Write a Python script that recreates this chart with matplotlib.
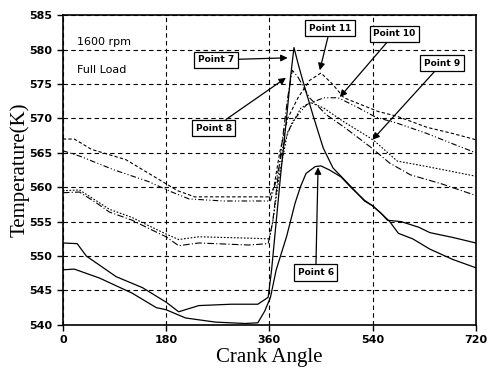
import matplotlib.pyplot as plt

# Temperatura vs ángulo de cigüeñal, 1600 rpm carga completa
ang6 = [0, 20, 64, 121, 163, 180, 214, 266, 318, 340, 352, 362, 372, 390, 405, 414, 424, 440, 450,
        465, 485, 502, 526, 540, 555, 570, 585, 610, 640, 680, 720]
t6 = [548.0, 548.1, 546.8, 544.6, 542.5, 542.2, 541.0, 540.4, 540.2, 540.3, 542.0, 544.0, 548.0,
      552.8, 557.7, 560.0, 562.0, 563.0, 563.1, 562.5, 561.5, 560.0, 558.1, 557.3, 556.2, 555.0,
      553.3, 552.5, 551.0, 549.5, 548.3]

ang7 = [0, 25, 41, 93, 139, 180, 202, 237, 294, 340, 358, 364, 372, 380, 390, 397, 403, 410, 419,
        436, 454, 471, 500, 526, 540, 555, 566, 590, 620, 640, 680, 720]
t7 = [551.9, 551.8, 550.0, 547.0, 545.4, 543.3, 541.9, 542.8, 543.0, 543.0, 544.0, 548.0, 555.0,
      562.0, 570.0, 576.0, 580.3, 578.0, 575.3, 570.5, 565.7, 562.8, 560.3, 558.0, 557.3, 556.2,
      555.2, 555.0, 554.2, 553.4, 552.7, 551.9]

ang8 = [0, 29, 59, 81, 121, 150, 180, 202, 237, 324, 358, 366, 380, 392, 400, 410, 430, 460, 491,
        537, 570, 606, 660, 720]
t8 = [559.2, 559.3, 557.7, 556.4, 555.2, 554.0, 552.8, 551.5, 551.9, 551.6, 551.8, 555.0, 565.0,
      573.0, 577.0, 576.0, 573.0, 570.5, 568.7, 565.8, 563.5, 561.8, 560.5, 558.8]

ang9 = [0, 29, 59, 81, 121, 150, 180, 202, 237, 324, 360, 366, 378, 392, 415, 432, 455, 490, 535,
        545, 583, 635, 720]
t9 = [559.5, 559.6, 558.0, 556.8, 555.6, 554.4, 553.2, 552.4, 552.8, 552.6, 552.5, 555.0, 562.0,
      568.0, 571.5, 572.3, 571.5, 569.5, 567.2, 566.6, 563.8, 563.0, 561.6]

ang10 = [0, 30, 90, 150, 190, 220, 280, 340, 362, 372, 384, 400, 425, 455, 480, 514, 545, 583,
         635, 680, 720]
t10 = [565.3, 564.5, 562.5, 560.8, 559.3, 558.3, 558.0, 558.0, 558.0, 561.0, 566.0, 569.5, 572.0,
       573.0, 573.0, 571.6, 570.2, 569.3, 567.8, 566.3, 565.0]

ang11 = [0, 20, 50, 110, 160, 200, 230, 290, 350, 360, 368, 378, 392, 410, 430, 450, 470, 490,
         520, 550, 583, 635, 680, 720]
t11 = [567.0, 567.0, 565.5, 564.0, 561.5, 559.5, 558.6, 558.6, 558.6, 558.6, 560.0, 565.0, 570.0,
       573.0, 575.5, 576.6, 575.0, 573.0, 572.0, 571.0, 570.3, 568.7, 567.8, 566.9]

xticks = [0, 180, 360, 540, 720]
yticks = [540, 545, 550, 555, 560, 565, 570, 575, 580, 585]

fig = plt.figure(figsize=(4.87, 3.70), dpi=100)
ax = fig.add_axes([0.129, 0.122, 0.848, 0.837])

ax.plot(ang6, t6, color='black', lw=0.9)
ax.plot(ang7, t7, color='black', lw=0.9)
ax.plot(ang8, t8, color='black', lw=0.8, ls=(0, (6, 2, 1, 2)))
ax.plot(ang9, t9, color='black', lw=0.8, ls=(0, (1.5, 1.5)))
ax.plot(ang10, t10, color='black', lw=0.8, ls=(0, (5, 2, 1, 2, 1, 2)))
ax.plot(ang11, t11, color='black', lw=0.8, ls=(0, (3, 2)))

ax.set_xlim(0, 720)
ax.set_ylim(540, 585)
ax.set_xticks(xticks)
ax.set_yticks(yticks)
ax.grid(True, color='black', ls=(0, (4, 3)), lw=0.8)
ax.tick_params(direction='out', length=4, width=1, labelsize=8)
for lab in ax.get_xticklabels() + ax.get_yticklabels():
    lab.set_fontweight('bold')
for s in ax.spines.values():
    s.set_linewidth(1.2)

ax.set_xlabel('Crank Angle', family='Liberation Serif', fontsize=15, labelpad=2)
ax.set_ylabel('Temperature(K)', family='Liberation Serif', fontsize=15, labelpad=0)

ax.text(25, 580.6, '1600 rpm', fontsize=8)
ax.text(25, 576.6, 'Full Load', fontsize=8)

caja = dict(boxstyle='square,pad=0.4', fc='white', ec='black', lw=0.9)
flecha = dict(arrowstyle='-|>', color='black', lw=0.9, mutation_scale=10, shrinkA=0, shrinkB=0)
notas = [('Point 7', (267, 578.5), (392, 578.8)),
         ('Point 8', (263, 568.6), (389, 575.9)),
         ('Point 11', (466, 583.1), (448, 577.0)),
         ('Point 10', (578, 582.3), (483, 573.1)),
         ('Point 9', (661, 578.0), (540, 566.9)),
         ('Point 6', (441, 547.6), (445, 562.9))]
for txt, pos, dst in notas:
    ax.annotate(txt, xy=dst, xytext=pos, fontsize=6.5, fontweight='bold', ha='center', va='center',
                bbox=caja, arrowprops=flecha)

fig.savefig('out.png', dpi=100)
